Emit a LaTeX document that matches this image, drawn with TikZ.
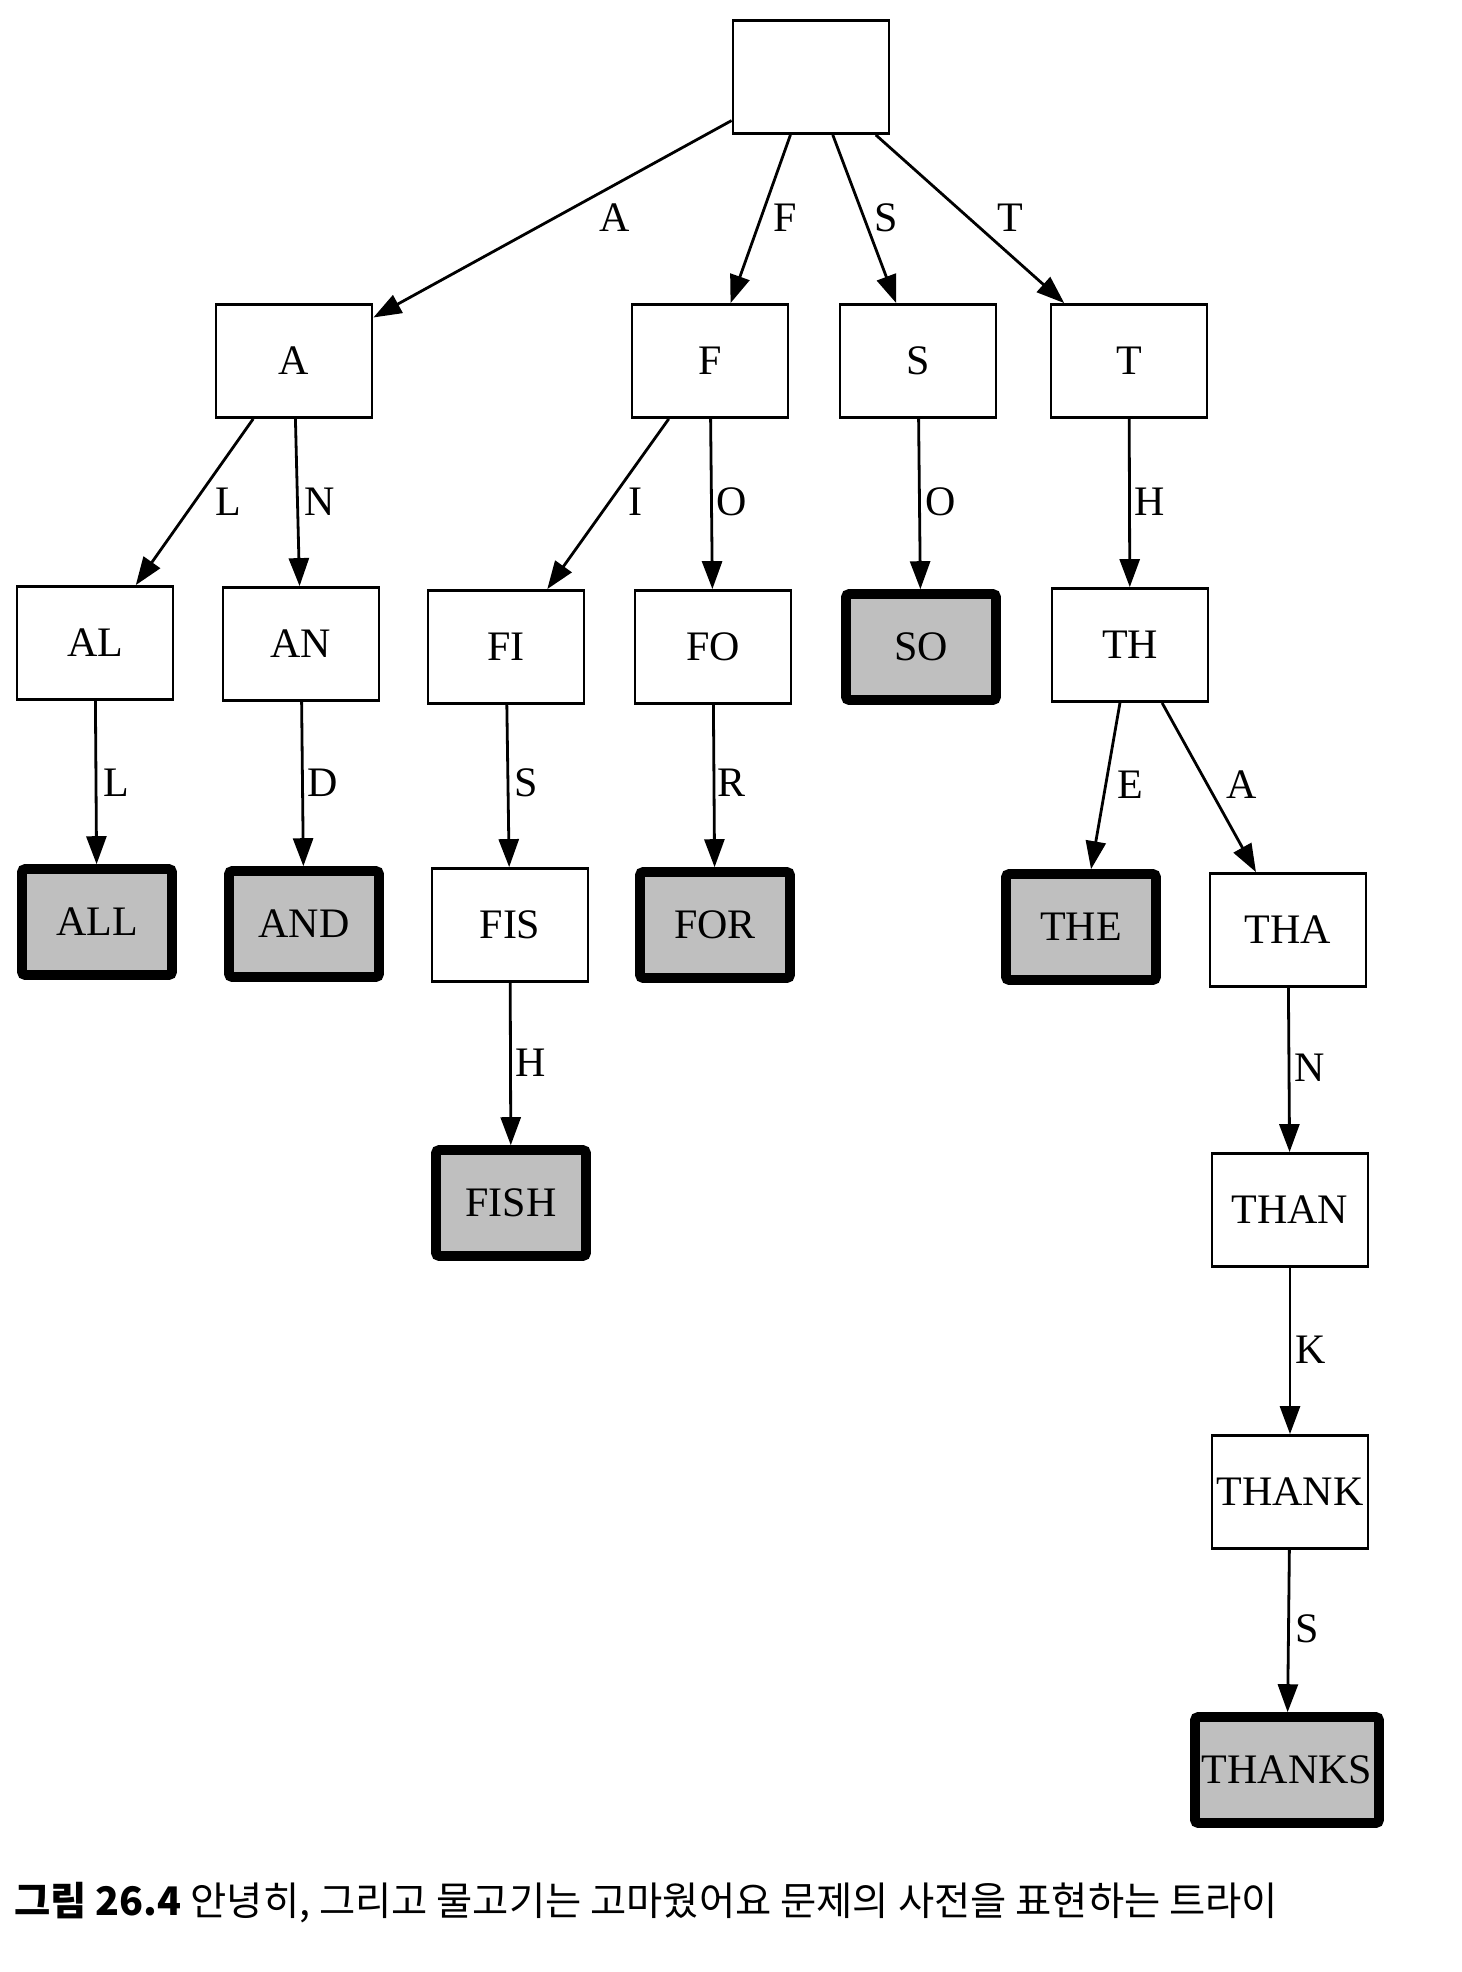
\documentclass[tikz,border=0pt]{standalone}
\usepackage{fontspec}
\setmainfont{Liberation Serif}
\newfontfamily\cjk{Noto Sans CJK KR}
\usetikzlibrary{arrows.meta}

\begin{document}
\begin{tikzpicture}[x=0.5pt,y=-0.5pt]

\tikzset{vertex/.style = {shape=rectangle,draw,line width=1.4pt,minimum width=78pt,minimum height=56.5pt,inner sep=0pt,font=\fontsize{21}{24}\selectfont}}
\tikzset{word/.style = {vertex,fill=black!25,line width=4.8pt,rounded corners=1.5pt,minimum width=75pt,minimum height=53pt}}
\tikzset{edge/.style = {-{Triangle[length=14pt,width=10pt]},line width=1.4pt}}
\tikzset{letter/.style = {inner sep=0pt,font=\fontsize{21}{24}\selectfont}}
\useasboundingbox (0,0) rectangle (1462,1972);

\node[vertex] (root) at (811,77) {};
\node[vertex] (A) at (294,361) {A};
\node[vertex] (F) at (710,361) {F};
\node[vertex] (S) at (918,361) {S};
\node[vertex] (T) at (1129,361) {T};
\node[vertex] (AL) at (95,643) {AL};
\node[vertex] (AN) at (301,644) {AN};
\node[vertex] (FI) at (506,647) {FI};
\node[vertex] (FO) at (713,647) {FO};
\node[word] (SO) at (921,647) {SO};
\node[vertex] (TH) at (1130,645) {TH};
\node[word] (ALL) at (97,922) {ALL};
\node[word] (AND) at (304,924) {AND};
\node[vertex] (FIS) at (510,925) {FIS};
\node[word] (FOR) at (715,925) {FOR};
\node[word] (THE) at (1081,927) {THE};
\node[vertex] (THA) at (1288,930) {THA};
\node[word] (FISH) at (511,1203) {FISH};
\node[vertex] (THAN) at (1290,1210) {THAN};
\node[vertex] (THANK) at (1290,1492) {THANK};
\node[word,minimum width=92pt] (THANKS) at (1287,1770) {THANKS};
%edges
\draw[edge] (root) to (A);
\draw[edge] (root) to (F);
\draw[edge] (root) to (S);
\draw[edge] (root) to (T);
\draw[edge] (A) to (AL);
\draw[edge] (A) to (AN);
\draw[edge] (F) to (FI);
\draw[edge] (F) to (FO);
\draw[edge] (S) to (SO);
\draw[edge] (T) to (TH);
\draw[edge] (AL) to (ALL);
\draw[edge] (AN) to (AND);
\draw[edge] (FI) to (FIS);
\draw[edge] (FO) to (FOR);
\draw[edge] (TH) to (THE);
\draw[edge] (TH) to (THA);
\draw[edge] (FIS) to (FISH);
\draw[edge] (THA) to (THAN);
\draw[edge] (THAN) to (THANK);
\draw[edge] (THANK) to (THANKS);
%edge labels
\node[letter] (lA) at (615,218) {A};
\node[letter] (lF) at (785,218) {F};
\node[letter] (lS) at (886,218) {S};
\node[letter] (lT) at (1010,218) {T};
\node[letter] (lAL) at (228,502) {L};
\node[letter] (lAN) at (320,502) {N};
\node[letter] (lFI) at (635,502) {I};
\node[letter] (lFO) at (732,502) {O};
\node[letter] (lSO) at (941,502) {O};
\node[letter] (lTH) at (1150,502) {H};
\node[letter] (lALL) at (116,783) {L};
\node[letter] (lAND) at (323,783) {D};
\node[letter] (lFIS) at (526,783) {S};
\node[letter] (lFOR) at (732,783) {R};
\node[letter] (lTHE) at (1130,785) {E};
\node[letter] (lTHA) at (1242,785) {A};
\node[letter] (lFISH) at (531,1063) {H};
\node[letter] (lTHAN) at (1310,1068) {N};
\node[letter] (lTHANK) at (1311,1350) {K};
\node[letter] (lTHANKS) at (1307,1629) {S};
%caption
\node[anchor=west,inner sep=0pt] (cap) at (14,1903) {\cjk\fontsize{19.7}{23}\selectfont\textbf{그림 26.4} 안녕히, 그리고 물고기는 고마웠어요 문제의 사전을 표현하는 트라이};
\end{tikzpicture}
\end{document}
